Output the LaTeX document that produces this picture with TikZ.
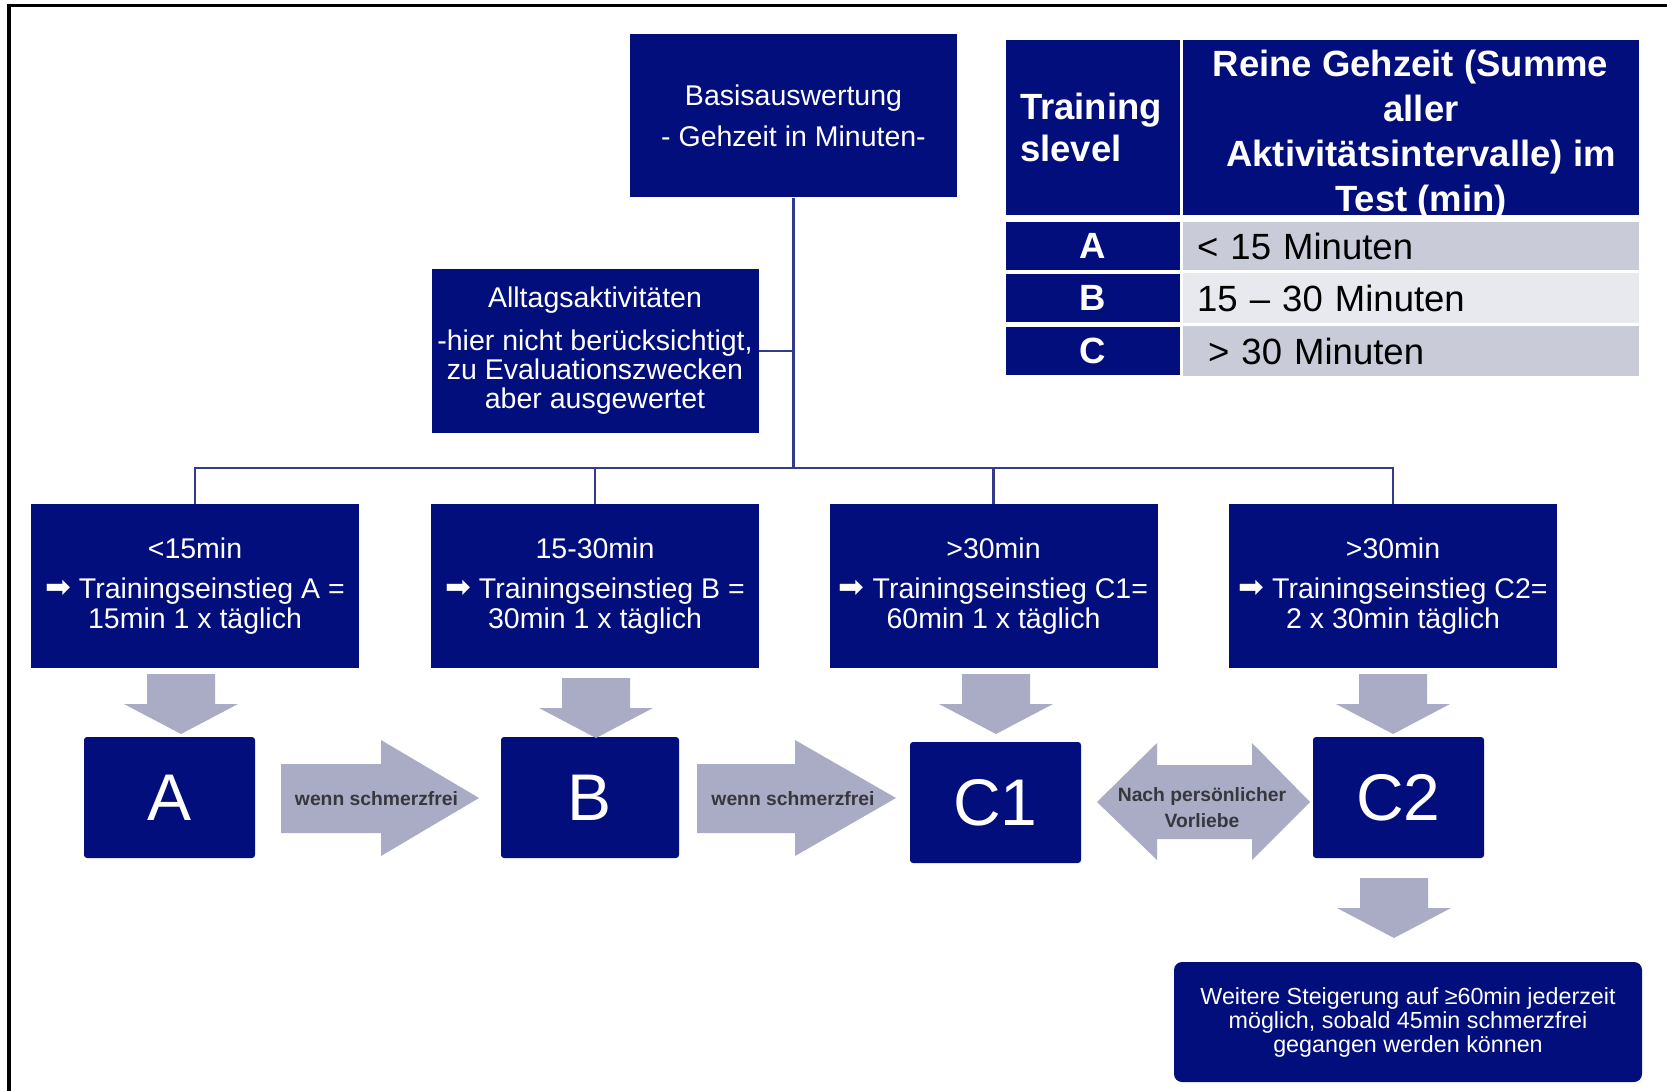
\documentclass[tikz,border=0pt]{standalone}
\usepackage{fontspec}
\setmainfont{Liberation Sans}
\newfontfamily\arrowfont{DejaVu Sans}
\definecolor{navy}{RGB}{2,14,124}
\definecolor{linecol}{RGB}{52,58,140}
\definecolor{blockgray}{RGB}{170,171,196}
\definecolor{rowdark}{RGB}{202,203,216}
\definecolor{rowlight}{RGB}{232,232,239}
\definecolor{arrowtext}{RGB}{55,55,62}
\newcommand\bularrow{\raisebox{0.5pt}{\scalebox{1.08}{\arrowfont ➡}}}

\begin{document}
\begin{tikzpicture}[x=1pt,y=-1pt,
  navybox/.style={fill=navy, text=white, inner sep=0pt, align=center},
  infobox/.style={navybox, minimum width=327pt, minimum height=163pt,
    font=\fontsize{28.5pt}{29pt}\selectfont},
  levelbox/.style={navybox, minimum width=328pt, minimum height=164pt,
    font=\fontsize{28.5pt}{30pt}\selectfont},
  letterbox/.style={navybox, rounded corners=3pt, minimum height=121pt,
    font=\fontsize{66pt}{66pt}\selectfont},
  conn/.style={draw=linecol, line width=2.5pt},
  blockarrow/.style={fill=blockgray},
  arrowlabel/.style={text=arrowtext, inner sep=0pt, align=center,
    font=\bfseries\fontsize{19.3pt}{26pt}\selectfont},
  headcell/.style={fill=navy, text=white, inner sep=0pt, minimum height=174.5pt,
    font=\bfseries\fontsize{36.5pt}{45pt}\selectfont},
  keycell/.style={fill=navy, text=white, inner sep=0pt, minimum width=174pt,
    minimum height=48pt, font=\bfseries\fontsize{36.5pt}{40pt}\selectfont},
  valcell/.style={inner xsep=14pt, inner ysep=0pt, text width=428pt, align=left,
    minimum height=48pt, font=\fontsize{36.5pt}{40pt}\selectfont}
]
\useasboundingbox (0,0) rectangle (1667,1091);

% outer frame (top and left edges)
\draw[line width=3.5pt] (9,1100) -- (9,5.5) -- (1675,5.5);

% evaluation boxes
\node[infobox] (basis) at (793.5,116)
  {Basisauswertung\\[12pt]- Gehzeit in Minuten-};
\node[infobox] (alltag) at (595,351)
  {Alltagsaktivitäten\\[14pt]-hier nicht berücksichtigt,\\zu Evaluationszwecken\\aber ausgewertet};

% starting levels
\node[levelbox] (l1) at (195,586)
  {<15min\\[9.5pt]\bularrow{} Trainingseinstieg A =\\15min 1 x täglich};
\node[levelbox] (l2) at (595,586)
  {15-30min\\[9.5pt]\bularrow{} Trainingseinstieg B =\\30min 1 x täglich};
\node[levelbox] (l3) at (993.5,586)
  {>30min\\[9.5pt]\bularrow{} Trainingseinstieg C1=\\60min 1 x täglich};
\node[levelbox] (l4) at (1393,586)
  {>30min\\[9.5pt]\bularrow{} Trainingseinstieg C2=\\2 x 30min täglich};

% tree connectors
\coordinate (bus) at (793.5,468);
\draw[conn] (basis.south) -- (bus);
\draw[conn] (alltag.east) -- (alltag.east -| basis.south);
\draw[conn] (l1.north) |- (bus) -| (l4.north);
\draw[conn] (l2.north) -- (l2.north |- bus);
\draw[conn] (l3.north) -- (l3.north |- bus);

% training levels
\node[letterbox, minimum width=171pt] (A) at (169.5,797.5) {A};
\node[letterbox, minimum width=178pt] (B) at (590,797.5) {B};
\node[letterbox, minimum width=171pt] (C1) at (995.5,802.5) {C1};
\node[letterbox, minimum width=171pt] (C2) at (1398.5,797.5) {C2};

% downward block arrows
\foreach \cx/\ty in {181/674, 596/678, 996/674, 1393/674, 1394/878}{
  \fill[blockarrow, shift={(\cx,\ty)}]
    (-34,0) -- (34,0) -- (34,30) -- (57,30) -- (0,60) -- (-57,30) -- (-34,30) -- cycle;
}

% rightward block arrows
\fill[blockarrow] (281,764) -- (381,764) -- (381,740) -- (479,798)
  -- (381,856) -- (381,833) -- (281,833) -- cycle;
\fill[blockarrow] (697,764) -- (795,764) -- (795,740) -- (896,798)
  -- (795,856) -- (795,833) -- (697,833) -- cycle;
% double-headed block arrow
\fill[blockarrow] (1097,802) -- (1157,743) -- (1157,765) -- (1252,765)
  -- (1252,743) -- (1310,802) -- (1252,860) -- (1252,839) -- (1157,839)
  -- (1157,860) -- cycle;

\node[arrowlabel] (w1) at (376.5,799) {wenn schmerzfrei};
\node[arrowlabel] (w2) at (793,799) {wenn schmerzfrei};
\node[arrowlabel] (pref) at (1202,808) {Nach persönlicher\\Vorliebe};

% further progression
\node[navybox, rounded corners=8pt, minimum width=468pt, minimum height=120pt,
  font=\fontsize{23.3pt}{24pt}\selectfont] (more) at (1408,1022)
  {Weitere Steigerung auf ≥60min jederzeit\\möglich, sobald 45min schmerzfrei\\gegangen werden können};

% level table
\node[headcell, minimum width=174pt, inner xsep=14pt, text width=146pt, align=left]
  (h1) at (1093,127.75) {\raisebox{-3pt}{Training}\\slevel};
\node[headcell, minimum width=456pt] (h2) at (1411,127.75) {};
\begin{scope}
  \clip (h2.north west) rectangle (h2.south east);
  \node[text=white, inner sep=0pt, align=center,
    font=\bfseries\fontsize{36.5pt}{45pt}\selectfont] (h2text) at (1421,135)
    {Reine Gehzeit (Summe\hspace*{21pt}\\aller\\Aktivitätsintervalle) im\\Test (min)};
\end{scope}

\node[keycell] (ka) at (1093,246) {A};
\node[keycell] (kb) at (1093,298) {B};
\node[keycell] (kc) at (1093,351) {C};
\node[valcell, fill=rowdark] (va) at (1411,246) {< 15 Minuten};
\node[valcell, fill=rowlight, minimum height=50pt] (vb) at (1411,298) {15 – 30 Minuten};
\node[valcell, fill=rowdark, minimum height=50pt] (vc) at (1411,351) {\hspace*{11pt}> 30 Minuten};

\end{tikzpicture}
\end{document}
